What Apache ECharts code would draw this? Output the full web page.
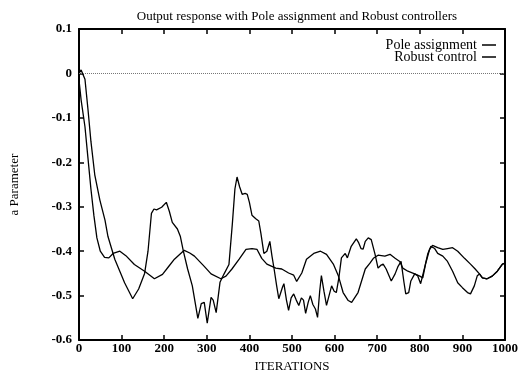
<!DOCTYPE html>
<html>
<head>
<meta charset="utf-8">
<script src="https://cdn.jsdelivr.net/npm/echarts@6/dist/echarts.min.js"></script>
<style>
  html, body { margin: 0; padding: 0; background: #fff; }
  #chart { width: 521px; height: 378px; }
</style>
</head>
<body>
<div id="chart"></div>
<script>
// Smooth oscillating response
const robustX = [0, 5, 14, 21, 28, 35, 42, 50, 60, 70, 80, 96, 110, 130, 154, 177, 196, 210, 224, 247,
  260, 271, 294, 310, 333, 345, 359, 376, 392, 406, 418, 429, 441, 462, 476, 492, 504, 511, 513, 523,
  534, 551, 567, 581, 597, 609, 620, 632, 640, 655, 672, 683, 691, 702, 718, 730, 742, 753, 760, 772,
  788, 800, 807, 814, 823, 830, 842, 854, 865, 877, 889, 905, 919, 930, 940, 947, 958, 970, 982, 994, 1000];
const robustY = [-0.015, -0.06, -0.12, -0.19, -0.26, -0.32, -0.37, -0.40, -0.414, -0.415, -0.405, -0.40, -0.41, -0.43, -0.445, -0.462, -0.452, -0.435, -0.418, -0.398,
  -0.404, -0.411, -0.434, -0.451, -0.462, -0.456, -0.44, -0.418, -0.396, -0.394, -0.396, -0.416, -0.429, -0.438, -0.44, -0.449, -0.454, -0.468, -0.471, -0.449,
  -0.418, -0.405, -0.40, -0.407, -0.429, -0.456, -0.493, -0.511, -0.515, -0.493, -0.44, -0.427, -0.416, -0.409, -0.411, -0.407, -0.416, -0.423, -0.438, -0.445,
  -0.451, -0.456, -0.46, -0.427, -0.396, -0.387, -0.392, -0.396, -0.394, -0.392, -0.40, -0.416, -0.429, -0.44, -0.451, -0.46, -0.462, -0.456, -0.445, -0.429, -0.427];

// Response with large swings
const poleX = [0, 5, 9, 14, 21, 28, 37, 49, 61, 68, 84, 98, 107, 126, 140, 154, 162, 170, 176, 182,
  194, 205, 212, 219, 231, 238, 245, 255, 266, 279, 287, 294, 301, 310, 315, 322, 331, 340, 352, 360,
  366, 371, 377, 383, 390, 395, 400, 406, 415, 422, 427, 434, 441, 448, 453, 458, 464, 469, 473, 478,
  481, 487, 492, 498, 504, 510, 516, 522, 527, 532, 538, 543, 549, 555, 560, 565, 569, 575, 581, 587,
  593, 599, 604, 610, 616, 625, 630, 639, 651, 656, 662, 667, 672, 679, 686, 695, 702, 708, 714, 721,
  733, 742, 749, 756, 763, 767, 774, 779, 788, 795, 802, 812, 819, 826, 835, 842, 854, 865, 877, 889,
  900, 912, 919, 928, 935, 940, 947, 958, 970, 982, 994, 1000];
const poleY = [0.0, 0.008, 0.011, -0.013, -0.08, -0.153, -0.228, -0.285, -0.33, -0.367, -0.418, -0.45, -0.471, -0.507, -0.485, -0.45, -0.40, -0.315, -0.305, -0.307,
  -0.301, -0.29, -0.31, -0.335, -0.35, -0.367, -0.40, -0.44, -0.478, -0.551, -0.518, -0.515, -0.562, -0.504, -0.51, -0.538, -0.47, -0.452, -0.43, -0.338,
  -0.26, -0.233, -0.255, -0.272, -0.27, -0.272, -0.29, -0.319, -0.327, -0.332, -0.36, -0.405, -0.40, -0.378, -0.411, -0.44, -0.478, -0.507, -0.505, -0.48,
  -0.473, -0.51, -0.533, -0.505, -0.496, -0.51, -0.522, -0.505, -0.51, -0.54, -0.515, -0.50, -0.52, -0.53, -0.549, -0.49, -0.455, -0.49, -0.522, -0.50,
  -0.478, -0.49, -0.493, -0.46, -0.415, -0.405, -0.415, -0.389, -0.372, -0.38, -0.394, -0.395, -0.378, -0.37, -0.374, -0.407, -0.438, -0.432, -0.429, -0.44,
  -0.467, -0.451, -0.434, -0.423, -0.471, -0.496, -0.493, -0.467, -0.451, -0.455, -0.473, -0.434, -0.405, -0.389, -0.394, -0.405, -0.411, -0.423, -0.445, -0.471,
  -0.482, -0.493, -0.496, -0.478, -0.455, -0.451, -0.46, -0.462, -0.456, -0.445, -0.429, -0.427];

const xTicks = { min: 0, max: 1000, interval: 100 };
const yTicks = { min: -0.6, max: 0.1, interval: 0.1 };

const zip = (xs, ys) => xs.map((x, i) => [x, ys[i]]);
const serif = 'Liberation Serif';

const chart = echarts.init(document.getElementById('chart'));
const tickStyle = { show: true, inside: true, length: 5, lineStyle: { color: '#000', width: 1.5 } };
const frame = { show: true, onZero: false, lineStyle: { color: '#000', width: 2 } };

chart.setOption({
  animation: false,
  backgroundColor: '#fff',
  title: {
    text: 'Output response with Pole assignment and Robust controllers',
    left: 292, top: 5, textAlign: 'center',
    textStyle: { fontFamily: serif, fontSize: 13, fontWeight: 'normal', color: '#000' }
  },
  legend: {
    orient: 'vertical', right: 20, top: 33, align: 'right',
    icon: 'rect', itemWidth: 14, itemHeight: 1.5, itemGap: -2,
    textStyle: { fontFamily: serif, fontSize: 14, lineHeight: 12, color: '#000' },
    data: ['Pole assignment', 'Robust control']
  },
  grid: { left: 79, right: 13, top: 29, bottom: 33 },
  xAxis: [{
    type: 'value', ...xTicks, position: 'bottom',
    name: 'ITERATIONS', nameLocation: 'middle', nameGap: 11,
    nameTextStyle: { fontFamily: serif, fontSize: 13, color: '#000' },
    axisLine: frame, axisTick: tickStyle, splitLine: { show: false },
    axisLabel: { margin: 2, fontFamily: serif, fontSize: 13, fontWeight: 'bold', color: '#000',
      formatter: v => String(v) }
  }, {
    type: 'value', ...xTicks, position: 'top',
    axisLine: frame, axisTick: tickStyle, splitLine: { show: false }, axisLabel: { show: false }
  }],
  yAxis: [{
    type: 'value', ...yTicks, position: 'left',
    name: 'a Parameter', nameLocation: 'middle', nameGap: 58, nameRotate: 90,
    nameTextStyle: { fontFamily: serif, fontSize: 13, color: '#000' },
    axisLine: frame, axisTick: tickStyle, splitLine: { show: false },
    axisLabel: { margin: 7, fontFamily: serif, fontSize: 13, fontWeight: 'bold', color: '#000',
      formatter: v => String(+v.toFixed(1)) }
  }, {
    type: 'value', ...yTicks, position: 'right',
    axisLine: frame, axisTick: tickStyle, splitLine: { show: false }, axisLabel: { show: false }
  }],
  series: [{
    name: 'Pole assignment', type: 'line', data: zip(poleX, poleY),
    symbol: 'none', lineStyle: { color: '#000', width: 1.3 }, itemStyle: { color: '#000' },
    markLine: {
      silent: true, symbol: 'none', label: { show: false },
      lineStyle: { color: '#777', type: 'dotted', width: 1 },
      data: [{ yAxis: 0 }]
    }
  }, {
    name: 'Robust control', type: 'line', data: zip(robustX, robustY),
    symbol: 'none', lineStyle: { color: '#000', width: 1.3 }, itemStyle: { color: '#000' }
  }]
});
</script>
</body>
</html>
